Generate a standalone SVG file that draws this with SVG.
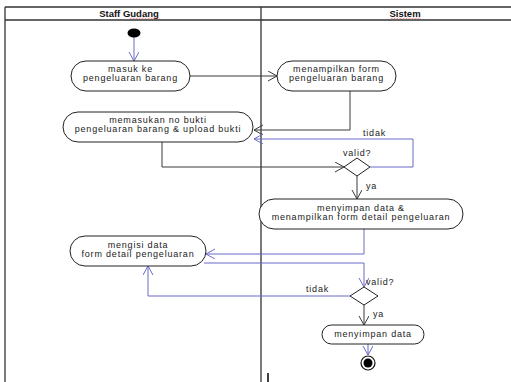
<svg xmlns="http://www.w3.org/2000/svg" width="511" height="382" viewBox="0 0 511 382">
<defs>
<marker id="ad" markerUnits="userSpaceOnUse" markerWidth="12" markerHeight="12" refX="9" refY="5" orient="auto">
<path d="M0,0 L9,5 L0,10" fill="none" stroke="#3a3a3a" stroke-width="1"/>
</marker>
<marker id="ab" markerUnits="userSpaceOnUse" markerWidth="12" markerHeight="12" refX="9" refY="5" orient="auto">
<path d="M0,0 L9,5 L0,10" fill="none" stroke="#6a6ac8" stroke-width="1"/>
</marker>
</defs>
<style>
.node{fill:#fff;stroke:#222;stroke-width:1}
.t{font-family:"Liberation Sans",Arial,sans-serif;font-size:9px;letter-spacing:0.8px;fill:#222;text-anchor:middle}
.lb{font-family:"Liberation Sans",Arial,sans-serif;font-size:9px;letter-spacing:0.8px;fill:#222}
.h{font-family:"Liberation Sans",Arial,sans-serif;font-size:9.5px;font-weight:bold;fill:#111;text-anchor:middle}
.dk{fill:none;stroke:#3a3a3a;stroke-width:1;marker-end:url(#ad)}
.bl{fill:none;stroke:#6a6ac8;stroke-width:1;marker-end:url(#ab)}
.sq{fill:none;stroke:#e03030;stroke-width:0.7;stroke-dasharray:1 0.8}
</style>
<rect width="511" height="382" fill="#fff"/>
<g id="lanes" stroke="#333" stroke-width="1.3" fill="none">
<path d="M5,7 H511 M5,20 H511 M5,7 V382 M261,7 V382"/>
</g>
<g id="headers">
<text class="h" x="129" y="17">Staff Gudang</text>
<path class="sq" d="M130,19 l1.5,-1 l1.5,1 l1.5,-1 l1.5,1 l1.5,-1 l1.5,1 l1.5,-1 l1.5,1 l1.5,-1 l1.5,1 l1.5,-1 l1.5,1 l1.5,-1 l1.5,1 l1.5,-1 l1.5,1 l1.5,-1 l1.5,1 l1.5,-1 l1.5,1"/>
<text class="h" x="405" y="17">Sistem</text>
<path class="sq" d="M391,19 l1.5,-1 l1.5,1 l1.5,-1 l1.5,1 l1.5,-1 l1.5,1 l1.5,-1 l1.5,1 l1.5,-1 l1.5,1 l1.5,-1 l1.5,1 l1.5,-1 l1.5,1 l1.5,-1 l1.5,1 l1.5,-1 l1.5,1 l1.5,-1 l1.5,1"/>
</g>
<g id="connectors">
<path class="bl" d="M134,37 V61"/>
<path class="dk" d="M190,76 H277"/>
<path class="dk" d="M350,91 V130 H254"/>
<path class="dk" d="M162,142 V167 H344"/>
<path class="bl" d="M370,167 H413 V139 H254"/>
<path class="dk" d="M357,176 V199"/>
<path class="bl" d="M364,229 V254 H206"/>
<path class="bl" d="M204,263 H364 V287"/>
<path class="bl" d="M350,296 H148 V266"/>
<path class="dk" d="M364,305 V325"/>
<path class="bl" d="M368,343 V355"/>
<text class="lb" x="363" y="136">tidak</text>
<text class="lb" x="343" y="156">valid?</text>
<text class="lb" x="366" y="189">ya</text>
<text class="lb" x="366" y="285">valid?</text>
<text class="lb" x="306" y="292">tidak</text>
<text class="lb" x="373" y="317">ya</text>
</g>
<g id="start"><ellipse cx="134" cy="33" rx="6.5" ry="4.5" fill="#000"/></g>
<g id="n1">
<rect class="node" x="71" y="61" width="119" height="30" rx="15"/>
<text class="t" x="130.5" y="72">masuk ke</text>
<text class="t" x="130.5" y="81">pengeluaran barang</text>
</g>
<g id="n2">
<rect class="node" x="277" y="61" width="119" height="30" rx="15"/>
<text class="t" x="336.5" y="72">menampilkan form</text>
<text class="t" x="336.5" y="81">pengeluaran barang</text>
</g>
<g id="n3">
<rect class="node" x="63" y="112" width="190" height="30" rx="15"/>
<text class="t" x="158" y="123">memasukan no bukti</text>
<text class="t" x="158" y="132">pengeluaran barang &amp; upload bukti</text>
</g>
<g id="d1"><path class="node" d="M357,158 L370,167 L357,176 L344,167 Z"/></g>
<g id="n4">
<rect class="node" x="259" y="199" width="204" height="30" rx="15"/>
<text class="t" x="361" y="211">menyimpan data &amp;</text>
<text class="t" x="361" y="220">menampilkan form detail pengeluaran</text>
</g>
<g id="n5">
<rect class="node" x="70" y="236" width="136" height="30" rx="15"/>
<text class="t" x="138" y="248">mengisi data</text>
<text class="t" x="138" y="257">form detail pengeluaran</text>
</g>
<g id="d2"><path class="node" d="M364,287 L378,296 L364,305 L350,296 Z"/></g>
<g id="n6">
<rect class="node" x="322" y="325" width="102" height="19" rx="9.5"/>
<text class="t" x="373" y="337">menyimpan data</text>
</g>
<g id="end">
<circle cx="368" cy="363" r="7" fill="#fff" stroke="#111" stroke-width="1.2"/>
<circle cx="368" cy="363" r="4.5" fill="#000"/>
</g>
<path d="M268,373 V382" stroke="#000" stroke-width="1.5"/>
</svg>
